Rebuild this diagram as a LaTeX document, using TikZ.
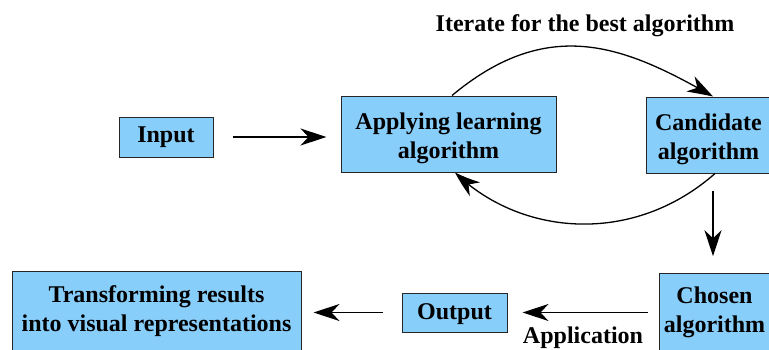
\documentclass[tikz,border=0pt]{standalone}
\usepackage{fontspec}
\setmainfont{Liberation Serif}
\usetikzlibrary{arrows.meta,bending}
\definecolor{boxblue}{RGB}{135,206,250}
\newcommand{\lowtop}{\rule{0pt}{26pt}}
\newcommand{\lowone}{\rule{0pt}{20pt}}
\tikzset{
  blockbox/.style={draw=black!85, line width=1pt, fill=boxblue, align=center,
    font=\fontsize{24}{29}\selectfont\bfseries, inner sep=0pt},
  conn/.style={line width=1.3pt, -{Stealth[length=26pt,width=17pt,inset=8pt]}},
  curveconn/.style={line width=1.3pt, -{Stealth[length=26pt,width=17pt,inset=8pt,bend]}},
  lbl/.style={font=\fontsize{24}{29}\selectfont\bfseries, inner sep=0pt}
}
\begin{document}
\begin{tikzpicture}[x=1pt,y=1pt]
\useasboundingbox (0,0) rectangle (769,349);
\fill[white] (0,0) rectangle (769,349);
\clip (0,0) rectangle (769,349);
% nodes
\node[blockbox, minimum width=94pt, minimum height=40pt] (in) at (166,212) {Input};
\node[blockbox, minimum width=215pt, minimum height=76pt] (app) at (448.5,215) {\lowtop Applying learning\\algorithm};
\node[blockbox, minimum width=125pt, minimum height=76pt] (cand) at (708.5,214) {\lowtop Candidate\\algorithm};
\node[blockbox, minimum width=111pt, minimum height=78pt] (chosen) at (714.5,36.25) {Chosen\\algorithm};
\node[blockbox, minimum width=105pt, minimum height=39pt] (out) at (454.5,36.5) {\lowone Output};
\node[blockbox, minimum width=289pt, minimum height=80pt] (trans) at (156.5,38) {Transforming results\\into visual representations};
% labels
\node[lbl] (iter) at (585,323) {Iterate for the best algorithm};
% connectors
\draw[conn, shorten <=19pt, shorten >=14pt] (in.east) -- (in.east -| app.west);
\draw[curveconn] ([xshift=3.5pt]app.north) .. controls (550,335.3) and (627,301.7) .. ([xshift=4.5pt]cand.north);
\draw[curveconn] ([xshift=6.5pt]cand.south) .. controls (632.7,103) and (520,113) .. ([xshift=6.5pt]app.south);
\draw[conn, shorten <=17pt, shorten >=17pt] ([xshift=4.5pt]cand.south) -- ([xshift=4.5pt]cand.south |- chosen.north);
\draw[conn, shorten <=11pt, shorten >=15pt] (chosen.west |- out.east) -- (out.east)
  node[lbl, midway, below=14pt] (applbl) {Application};
\draw[conn, shorten <=19pt, shorten >=12pt] (out.west) -- (out.west -| trans.east);
\end{tikzpicture}
\end{document}
